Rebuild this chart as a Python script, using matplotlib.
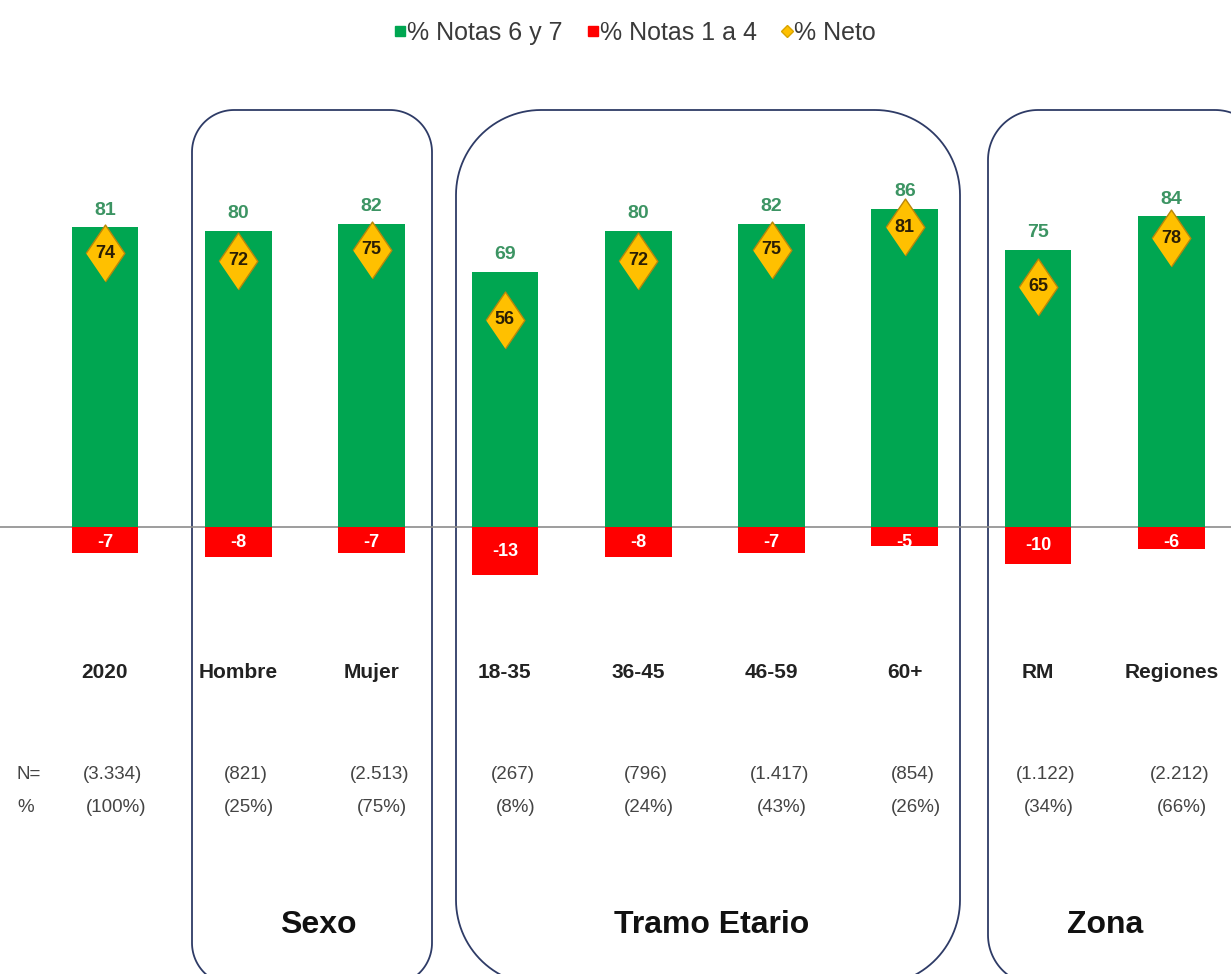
import matplotlib
matplotlib.use("Agg")
import numpy as np
import matplotlib.pyplot as plt
from matplotlib.patches import PathPatch
from matplotlib.path import Path
from matplotlib.lines import Line2D

# datos
categorias = ["2020", "Hombre", "Mujer", "18-35", "36-45", "46-59", "60+", "RM", "Regiones"]
notas_67 = [81, 80, 82, 69, 80, 82, 86, 75, 84]
notas_14 = [-7, -8, -7, -13, -8, -7, -5, -10, -6]
neto = [74, 72, 75, 56, 72, 75, 81, 65, 78]
n_casos = ["(3.334)", "(821)", "(2.513)", "(267)", "(796)", "(1.417)", "(854)", "(1.122)", "(2.212)"]
n_pct = ["(100%)", "(25%)", "(75%)", "(8%)", "(24%)", "(43%)", "(26%)", "(34%)", "(66%)"]
grupos = ["Sexo", "Tramo Etario", "Zona"]

VERDE = "#00A651"
ROJO = "#FF0000"
ORO = "#FFC000"
AZUL = "#2E3B66"
FUENTE = ["Liberation Sans", "DejaVu Sans"]

W, H = 1231, 974
fig = plt.figure(figsize=(W / 100, H / 100), dpi=100)
fig.patch.set_facecolor("white")

# ejes en pixeles para cajas y linea base
axp = fig.add_axes([0, 0, 1, 1])
axp.set_xlim(0, W)
axp.set_ylim(H, 0)
axp.axis("off")

# ejes de datos: categoria i en x = 105 + 133.3*i px, valor v en y = 527 - 3.7*v px
ax = fig.add_axes([0, 0, 1, 1])
ax.patch.set_alpha(0)
x0, dx, y0, dy = 105, 133.3, 527, 3.7
ax.set_xlim(-x0 / dx, (W - x0) / dx)
ax.set_ylim((y0 - H) / dy, y0 / dy)
ax.axis("off")


def caja_redonda(l, t, r, b, rad):
    # rectangulo con esquinas redondeadas (coordenadas en pixeles, y hacia abajo)
    pts = []
    esquinas = [(r - rad, t + rad, -90, 0), (r - rad, b - rad, 0, 90),
                (l + rad, b - rad, 90, 180), (l + rad, t + rad, 180, 270)]
    for cx, cy, a1, a2 in esquinas:
        ang = np.radians(np.linspace(a1, a2, 30))
        pts += list(zip(cx + rad * np.cos(ang), cy + rad * np.sin(ang)))
    pts.append(pts[0])
    return Path(pts)


cajas = [(192, 110, 432, 985, 42), (456, 110, 960, 985, 85), (988, 110, 1265, 985, 50)]
for c in cajas:
    axp.add_patch(PathPatch(caja_redonda(*c), fill=False, edgecolor=AZUL,
                            linewidth=1.3, zorder=1))

axp.plot([0, W], [y0, y0], color="#8C8C8C", lw=1.2, zorder=2)

xs = list(range(len(categorias)))
ax.bar(xs, notas_67, width=0.5, color=VERDE, zorder=3)
ax.bar(xs, notas_14, width=0.5, color=ROJO, zorder=3)

dia = [(-0.34, 0), (0, 0.5), (0.34, 0), (0, -0.5)]
ax.plot(xs, neto, linestyle="none", marker=dia, markersize=41,
        markerfacecolor=ORO, markeredgecolor="#B8860B", markeredgewidth=1, zorder=4)

for i in xs:
    ax.text(i, notas_67[i] + 4.6, str(notas_67[i]), ha="center", va="center",
            fontsize=14, fontweight="bold", color="#3C9463", family=FUENTE, zorder=5)
    ax.text(i, neto[i], str(neto[i]), ha="center", va="center",
            fontsize=13, fontweight="bold", color="#2A1E05", family=FUENTE, zorder=5)
    ax.text(i, min(notas_14[i] / 2, -4.3), str(notas_14[i]), ha="center", va="center",
            fontsize=13, fontweight="bold", color="white", family=FUENTE, zorder=5)
    ax.text(i, -39.2, categorias[i], ha="center", va="center",
            fontsize=15, fontweight="bold", color="#222222", family=FUENTE)
    ax.text(i + 0.06, -66.8, n_casos[i], ha="center", va="center",
            fontsize=13.5, color="#444444", family=FUENTE)
    ax.text(i + 0.08, -75.9, n_pct[i], ha="center", va="center",
            fontsize=13.5, color="#444444", family=FUENTE)

ax.text((17 - x0) / dx, -66.8, "N=", ha="left", va="center",
        fontsize=13.5, color="#444444", family=FUENTE)
ax.text((17 - x0) / dx, -75.9, "%", ha="left", va="center",
        fontsize=13.5, color="#444444", family=FUENTE)

# etiquetas de grupo
pos_grupos = [1.6, 4.55, 7.5]
for g, gx in zip(grupos, pos_grupos):
    ax.text(gx, -107.6, g, ha="center", va="center", fontsize=23,
            fontweight="bold", color="#111111", family=FUENTE)

# leyenda
handles = [
    Line2D([], [], linestyle="none", marker="s", markersize=7, color=VERDE),
    Line2D([], [], linestyle="none", marker="s", markersize=7, color=ROJO),
    Line2D([], [], linestyle="none", marker="D", markersize=6,
           markerfacecolor=ORO, markeredgecolor="#D9A400"),
]
leg = fig.legend(handles, ["% Notas 6 y 7", "% Notas 1 a 4", "% Neto"],
                 loc="center", bbox_to_anchor=(0.516, 1 - 33 / H), ncol=3,
                 frameon=False, handlelength=0.45, handletextpad=0.05,
                 columnspacing=1.0, prop={"family": FUENTE, "size": 18})
for t in leg.get_texts():
    t.set_color("#3A3A3A")

fig.savefig("out.png", dpi=100)
